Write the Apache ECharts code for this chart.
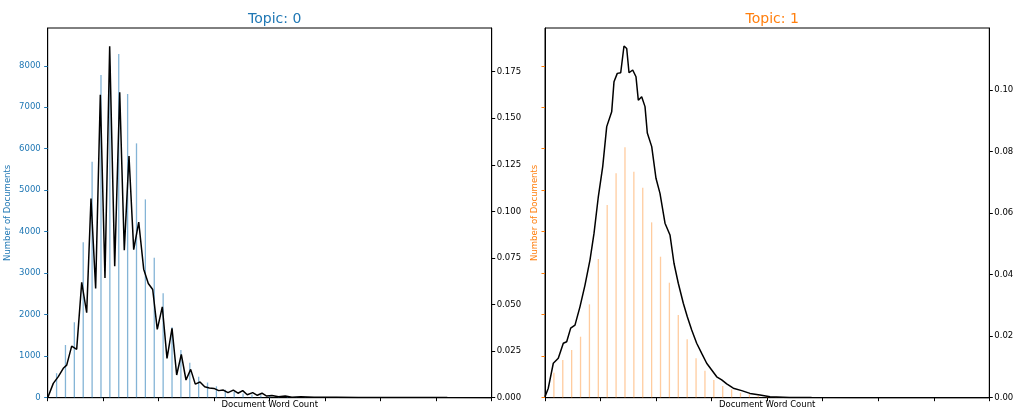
<!DOCTYPE html>
<html>
<head>
<meta charset="utf-8">
<script src="https://cdn.jsdelivr.net/npm/echarts@6/dist/echarts.min.js"></script>
<style>
html,body{margin:0;padding:0;background:#fff;}
#chart{width:1024px;height:410px;}
</style>
</head>
<body>
<div id="chart"></div>
<script>
// ---- Data ----
const topicTitles = ['Topic: 0', 'Topic: 1'];
const topicColors = ['#1f77b4', '#ff7f0e'];

// Topic 0 histogram (word count bin -> number of documents)
const topic0BinX = [20,40,60,80,100,120,140,160,180,200,220,240,260,280,300,320,340,360,380,400,420,440,460,480,500,520,540,560,580,600];
const topic0Counts = [590,1270,1817,3745,5687,7776,8000,8282,7318,6130,4780,3373,2515,1696,1150,843,506,365,275,190,140,100,80,60,45,35,25,20,15,10];

// Topic 0 density curve
const topic0KdeX = [0,12.6,23.9,35.1,42.8,54,65.3,76.6,87.8,97.5,108,118.5,129,139.6,150.9,162.2,172.5,183.1,193.7,205,216.2,226.6,236.5,246.8,258.1,268.7,280,290.5,300.9,311.5,322,332.4,343,353.6,364,374.5,385.1,395.5,406,418,428.6,439.2,449.5,461.7,472,482.7,493.2,505,520,535,550,570,600,650,700,800,900,1000];
const topic0KdeY = [0,0.0077,0.0113,0.0158,0.0175,0.0277,0.026,0.0619,0.0456,0.1069,0.0586,0.1626,0.0642,0.1887,0.0706,0.164,0.0792,0.1297,0.0795,0.0943,0.069,0.0613,0.0581,0.0367,0.0488,0.0211,0.0372,0.0122,0.0233,0.0095,0.0152,0.0073,0.0084,0.0059,0.0052,0.005,0.0038,0.0041,0.0027,0.0041,0.0024,0.0038,0.0016,0.0027,0.0013,0.0024,0.0009,0.0012,0.0005,0.0009,0.0003,0.0005,0.0002,0.0002,0.0001,0.0001,0.00005,0.00003];

// Topic 1 histogram
const topic1BinX = [20,40,60,80,100,120,140,160,180,200,220,240,260,280,300,320,340,360,380,400,420,440,460,480,500,520];
const topic1Counts = [603,908,1149,1470,2250,3342,4643,5407,6033,5446,5060,4226,3398,2771,1993,1407,949,651,426,282,202,120,80,50,30,20];

// Topic 1 density curve
const topic1KdeX = [0,7.4,18.7,29.9,41.2,48.8,57.8,67.5,78.8,90,101.3,110.3,120,129.9,138.9,150.1,155.3,162.7,170.4,177.8,183.9,189.1,197.4,204.8,210,217.6,225.1,230.3,240.2,249.8,258.8,270.1,281.3,290.3,300,311.3,320.3,330.2,341.4,352.7,363.9,375.2,386.5,397.7,409,423.8,442.7,461.4,483.9,506.4,550,600,700,1000];
const topic1KdeY = [0.0003,0.0031,0.0112,0.0128,0.0177,0.0182,0.0226,0.0236,0.0296,0.0366,0.0448,0.0534,0.0653,0.0751,0.0881,0.0929,0.1027,0.1054,0.1056,0.1143,0.1135,0.1056,0.1065,0.1043,0.0967,0.0978,0.0946,0.086,0.0816,0.0713,0.0664,0.0567,0.0529,0.0437,0.0372,0.0307,0.0263,0.022,0.0177,0.0144,0.0112,0.009,0.0068,0.0058,0.0045,0.0031,0.0023,0.0014,0.0009,0.0003,0.0001,0.00005,0.00002,0];

// Axis ticks
const xTicks = [0,125,250,375,500,625,750,875,1000];
const countTicks = [0,1000,2000,3000,4000,5000,6000,7000,8000];
const density0Ticks = [0,0.025,0.05,0.075,0.1,0.125,0.15,0.175];
const density1Ticks = [0,0.02,0.04,0.06,0.08,0.1];

// ---- Build ----
const zip = (a, b) => a.map((v, i) => [v, b[i]]);
const FONT = 'DejaVu Sans';
const FS = 8.5;
const grids = [
  {left: 47.7, top: 28, width: 444, height: 369.7, show: true, borderColor: '#000', borderWidth: 1, containLabel: false, outerBoundsMode: 'none'},
  {left: 545, top: 28, width: 444.3, height: 369.7, show: true, borderColor: '#000', borderWidth: 1, containLabel: false, outerBoundsMode: 'none'}
];

function xAx(i) {
  return {
    type: 'value', gridIndex: i, min: 0, max: 1000,
    name: 'Document Word Count', nameLocation: 'middle', nameGap: 2.5,
    nameTextStyle: {fontFamily: FONT, fontSize: FS, color: '#000', verticalAlign: 'top'},
    axisLine: {show: true, lineStyle: {color: '#000', width: 1}},
    axisTick: {show: true, length: 3.5, customValues: xTicks, lineStyle: {color: '#000'}},
    axisLabel: {show: false},
    splitLine: {show: false}
  };
}

function countAx(i, showLabels) {
  return {
    type: 'value', gridIndex: i, min: 0, max: 8910, position: 'left',
    name: 'Number of Documents', nameLocation: 'middle', nameGap: showLabels ? 35 : 6,
    nameTextStyle: {fontFamily: FONT, fontSize: FS, color: topicColors[i]},
    axisLine: {show: true, lineStyle: {color: '#000', width: 1}},
    axisTick: {show: true, length: 3.5, customValues: countTicks, lineStyle: {color: topicColors[i]}},
    axisLabel: {show: showLabels, customValues: countTicks, fontFamily: FONT, fontSize: FS, color: topicColors[i], margin: 7,
      formatter: v => String(Math.round(v))},
    splitLine: {show: false}
  };
}

function densityAx(i, max, ticks, dec) {
  return {
    type: 'value', gridIndex: i, min: 0, max: max, position: 'right',
    axisLine: {show: true, lineStyle: {color: '#000', width: 1}},
    axisTick: {show: true, length: 3.5, customValues: ticks, lineStyle: {color: '#000'}},
    axisLabel: {show: true, customValues: ticks, fontFamily: FONT, fontSize: FS, color: '#000', margin: 5,
      formatter: v => v.toFixed(dec)},
    splitLine: {show: false}
  };
}

const option = {
  animation: false,
  backgroundColor: '#fff',
  title: [
    {text: topicTitles[0], left: 269.7, top: 7, textAlign: 'center',
      textStyle: {fontFamily: FONT, fontSize: 14, fontWeight: 'normal', color: topicColors[0]}},
    {text: topicTitles[1], left: 767.2, top: 7, textAlign: 'center',
      textStyle: {fontFamily: FONT, fontSize: 14, fontWeight: 'normal', color: topicColors[1]}}
  ],
  grid: grids,
  xAxis: [xAx(0), xAx(1)],
  yAxis: [
    countAx(0, true),
    densityAx(0, 0.19845, density0Ticks, 3),
    countAx(1, false),
    densityAx(1, 0.12015, density1Ticks, 2)
  ],
  series: [
    {type: 'bar', xAxisIndex: 0, yAxisIndex: 0, barWidth: 1.3,
      itemStyle: {color: 'rgba(31,119,180,0.55)'}, data: zip(topic0BinX, topic0Counts)},
    {type: 'line', xAxisIndex: 0, yAxisIndex: 1, showSymbol: false, symbol: 'none',
      lineStyle: {color: '#000', width: 1.5}, data: zip(topic0KdeX, topic0KdeY)},
    {type: 'bar', xAxisIndex: 1, yAxisIndex: 2, barWidth: 1.3,
      itemStyle: {color: 'rgba(255,127,14,0.4)'}, data: zip(topic1BinX, topic1Counts)},
    {type: 'line', xAxisIndex: 1, yAxisIndex: 3, showSymbol: false, symbol: 'none',
      lineStyle: {color: '#000', width: 1.5}, data: zip(topic1KdeX, topic1KdeY)}
  ]
};

const chart = echarts.init(document.getElementById('chart'), null, {renderer: 'canvas'});
chart.setOption(option);
</script>
</body>
</html>
